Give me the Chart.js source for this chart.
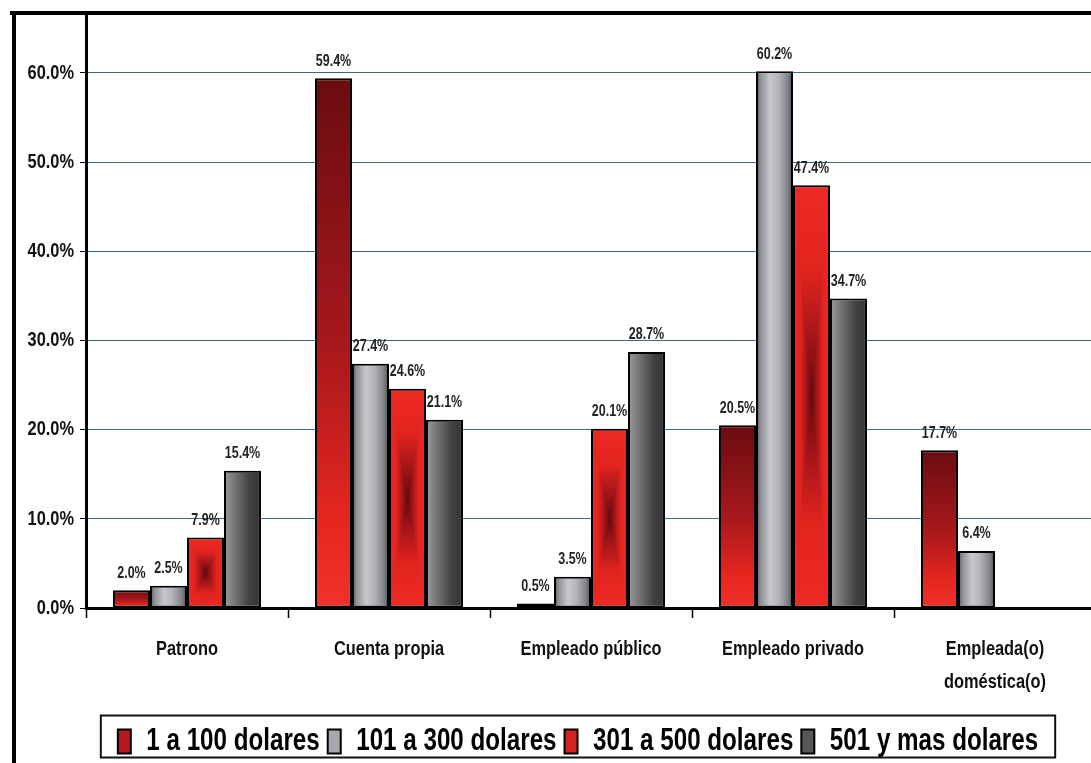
<!DOCTYPE html>
<html><head><meta charset="utf-8">
<script src="https://cdn.jsdelivr.net/npm/chart.js@4"></script>
<style>
html,body{margin:0;padding:0;background:#fff;overflow:hidden;width:1091px;height:763px}
#wrap{position:relative;width:1091px;height:763px;overflow:hidden;background:#fff}
#c{position:absolute;left:0;top:0;width:1100px;height:763px}
.frt{position:absolute;left:10px;top:11px;width:1081px;height:4px;background:#000}
.frl{position:absolute;left:12px;top:11px;width:4px;height:752px;background:#000}
</style></head>
<body><div id="wrap"><canvas id="c" width="1100" height="763"></canvas><div class="frt"></div><div class="frl"></div></div>
<script>
const categories = ['Patrono', 'Cuenta propia', 'Empleado público', 'Empleado privado', ['Empleada(o)', 'doméstica(o)']];
const seriesNames = ['1 a 100 dolares', '101 a 300 dolares', '301 a 500 dolares', '501 y mas dolares'];
const s1 = [2.0, 59.4, 0.5, 20.5, 17.7];
const s2 = [2.5, 27.4, 3.5, 60.2, 6.4];
const s3 = [7.9, 24.6, 20.1, 47.4, null];
const s4 = [15.4, 21.1, 28.7, 34.7, null];
const yTicks = [0, 10, 20, 30, 40, 50, 60];

const FONT = "'Liberation Sans', Arial, sans-serif";
const SX = 0.78; // horizontal text compression (emulates a narrow typeface)
const CAT_PCT = 0.733;
const LEG_PAD = 8;
const legendColors = ['#b21a1e', '#a6a8ae', '#d42220', '#575759'];

const canvas = document.getElementById('c');
const c2d = canvas.getContext('2d');
const origFill = c2d.fillText.bind(c2d), origMeasure = c2d.measureText.bind(c2d);
c2d.fillText = function (t, x, y, mw) {
  this.save(); this.translate(x, y); this.scale(SX, 1);
  if (mw === undefined) origFill(t, 0, 0); else origFill(t, 0, 0, mw / SX);
  this.restore();
};
c2d.measureText = function (t) {
  const m = origMeasure(t);
  return {width: m.width * SX, actualBoundingBoxAscent: m.actualBoundingBoxAscent, actualBoundingBoxDescent: m.actualBoundingBoxDescent,
    actualBoundingBoxLeft: m.actualBoundingBoxLeft * SX, actualBoundingBoxRight: m.actualBoundingBoxRight * SX};
};

function geom(c) {
  const chart = c.chart, xs = chart.scales.x, ys = chart.scales.y;
  if (!xs || !ys || c.dataIndex === undefined || c.raw == null || !(ys.height > 0)) return null;
  const n = chart.data.datasets.length;
  const catW = xs.width / chart.data.labels.length;
  const bw = catW * CAT_PCT / n;
  const cx = xs.getPixelForValue(c.dataIndex);
  const left = cx - catW * CAT_PCT / 2 + c.datasetIndex * bw;
  const top = ys.getPixelForValue(c.raw), base = ys.getPixelForValue(0);
  return {left: left, right: left + bw, top: top, base: base, w: bw, h: base - top};
}
function stopsGrad(gr, stops) { stops.forEach(s => gr.addColorStop(s[0], s[1])); return gr; }
function hex(c) { return [parseInt(c.slice(1,3),16), parseInt(c.slice(3,5),16), parseInt(c.slice(5,7),16)]; }
function interp(stops, t) {
  for (let i = 1; i < stops.length; i++) {
    if (t <= stops[i][0]) {
      const a = hex(stops[i-1][1]), b = hex(stops[i][1]);
      const f = (t - stops[i-1][0]) / (stops[i][0] - stops[i-1][0]);
      return [0,1,2].map(k => Math.round(a[k] + (b[k]-a[k]) * f));
    }
  }
  return hex(stops[stops.length-1][1]);
}
function xPattern(ctx, g) {
  const w = Math.max(1, Math.round(g.w)), h = Math.max(1, Math.round(g.h));
  const oc = document.createElement('canvas'); oc.width = w; oc.height = h;
  const o = oc.getContext('2d');
  const img = o.createImageData(w, h);
  const stops = [[0,'#640a0e'],[0.3,'#a8161a'],[0.6,'#e2241f'],[1,'#ee2a24']];
  const cx = w/2, cy = h/2;
  for (let y = 0; y < h; y++) for (let x = 0; x < w; x++) {
    const t = Math.min(1, Math.max(Math.abs(x + 0.5 - cx) / cx, Math.abs(y + 0.5 - cy) / cy));
    const col = interp(stops, t); const k = (y*w + x)*4;
    img.data[k] = col[0]; img.data[k+1] = col[1]; img.data[k+2] = col[2]; img.data[k+3] = 255;
  }
  o.putImageData(img, 0, 0);
  const p = ctx.createPattern(oc, 'no-repeat');
  p.setTransform(new DOMMatrix().translate(g.left, g.top));
  return p;
}

const fills = [
  c => { const g = geom(c); if (!g) return legendColors[0];
    return stopsGrad(c.chart.ctx.createLinearGradient(0, g.top, 0, g.base),
      [[0,'#6a0c10'],[0.5,'#a6181c'],[0.82,'#e4261f'],[1,'#f0322a']]); },
  c => { const g = geom(c); if (!g) return legendColors[1];
    return stopsGrad(c.chart.ctx.createLinearGradient(g.left, 0, g.right, 0),
      [[0,'#55565a'],[0.12,'#8e9096'],[0.38,'#c6c8ce'],[0.6,'#b2b4ba'],[0.86,'#828389'],[1,'#4a4a4e']]); },
  c => { const g = geom(c); if (!g) return legendColors[2]; return xPattern(c.chart.ctx, g); },
  c => { const g = geom(c); if (!g) return legendColors[3];
    return stopsGrad(c.chart.ctx.createLinearGradient(g.left, 0, g.right, 0),
      [[0,'#9c9c9e'],[0.3,'#747476'],[0.7,'#404042'],[0.9,'#38383a'],[1,'#5e5e60']]); }
];

const valueLabels = {
  id: 'valueLabels',
  afterDatasetsDraw(chart) {
    const ctx = chart.ctx; ctx.save();
    ctx.font = 'bold 16px ' + FONT; ctx.fillStyle = '#222'; ctx.textAlign = 'center'; ctx.textBaseline = 'middle';
    chart.data.datasets.forEach((ds, di) => {
      chart.getDatasetMeta(di).data.forEach((el, i) => {
        const v = ds.data[i]; if (v == null) return;
        ctx.fillText(v.toFixed(1) + '%', el.x, el.y - 17);
      });
    });
    ctx.restore();
  }
};
const legendBox = {
  id: 'legendBox',
  afterUpdate(chart) {
    const lg = chart.legend; if (!lg) return;
    lg.left = lg.left + 60;
  },
  afterDraw(chart) {
    const lg = chart.legend; if (!lg || !lg.legendHitBoxes || !lg.legendHitBoxes.length || !lg.lineWidths) return;
    const start = (lg.left + LEG_PAD + lg.right - lg.lineWidths[0]) / 2;
    const end = start + lg.lineWidths[0] - LEG_PAD;
    const hb = lg.legendHitBoxes[0];
    const cy = hb.top + hb.height / 2;
    const l = start - 17, r = end + 17, t = cy - 26, b = cy + 16;
    const ctx = chart.ctx; ctx.save();
    ctx.strokeStyle = '#111'; ctx.lineWidth = 2;
    ctx.strokeRect(l, t, r - l, b - t);
    ctx.restore();
  }
};

new Chart(canvas, {
  type: 'bar',
  data: {
    labels: categories,
    datasets: [s1, s2, s3, s4].map((d, i) => ({
      label: seriesNames[i], data: d, backgroundColor: fills[i],
      borderColor: '#000', borderWidth: 2, borderSkipped: false,
      categoryPercentage: CAT_PCT, barPercentage: 1
    }))
  },
  options: {
    responsive: false, animation: false, devicePixelRatio: 1,
    layout: {padding: {left: 0, right: 4, top: 15, bottom: -4}},
    plugins: {
      tooltip: {enabled: false},
      legend: {
        position: 'bottom',
        labels: {
          font: {family: FONT, size: 31, weight: 'bold'}, color: '#000',
          boxWidth: 13, boxHeight: 24, padding: LEG_PAD,
          generateLabels: chart => chart.data.datasets.map((ds, i) => ({
            text: ds.label, fillStyle: legendColors[i], strokeStyle: '#000', lineWidth: 2,
            hidden: false, datasetIndex: i, fontColor: '#000'
          }))
        }
      }
    },
    scales: {
      x: {
        z: 1, offset: true,
        afterFit: s => { s.height = 763 + 4 - s.chart.legend.height - 608; s.paddingLeft = 0; s.paddingRight = 0; },
        ticks: {font: {family: FONT, size: 21, weight: 'bold', lineHeight: 1.55}, color: '#111', padding: 15, maxRotation: 0, autoSkip: false},
        grid: {display: true, drawOnChartArea: false, drawTicks: true, tickLength: 10, tickColor: '#000', tickWidth: 1.5, offset: true},
        border: {display: true, color: '#000', width: 3}
      },
      y: {
        min: 0, max: 66.5, z: 1,
        afterBuildTicks: s => { s.ticks = yTicks.map(v => ({value: v})); },
        afterFit: s => { s.width = 86; s.paddingTop = 0; s.paddingBottom = 0; },
        ticks: {callback: v => Number(v).toFixed(1) + '%', font: {family: FONT, size: 21, weight: 'bold'}, color: '#111', padding: 6},
        grid: {color: '#3a6c86', lineWidth: 1, tickColor: '#000', tickLength: 6, drawTicks: true},
        border: {display: true, color: '#000', width: 3}
      }
    }
  },
  plugins: [valueLabels, legendBox]
});
</script>
</body></html>
